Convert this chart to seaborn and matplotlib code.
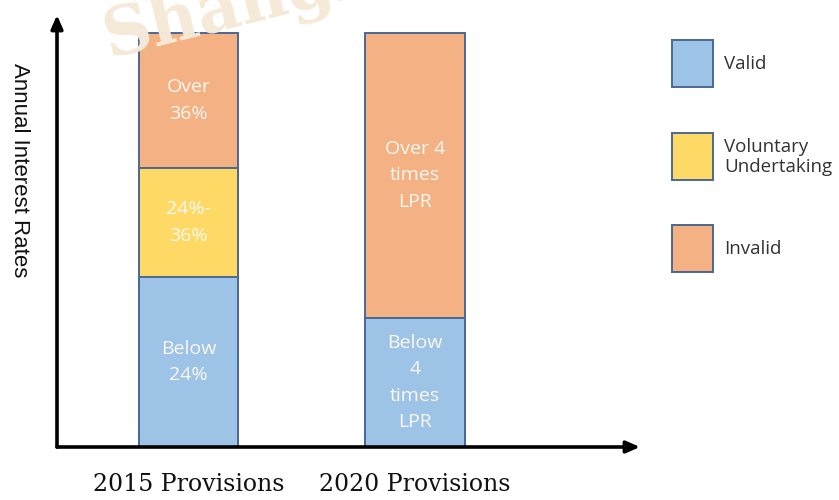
#!/usr/bin/env python3
# -*- coding: utf-8 -*-
import pandas as pd
import matplotlib.pyplot as plt
from matplotlib.patches import Rectangle
import seaborn as sns

# chart data (segment heights, arbitrary units)
provisions = ['2015 Provisions', '2020 Provisions']
valid = [41.1, 31.2]
voluntary = [26.3, 0.0]
invalid = [32.6, 68.8]
valid_text = ['Below\n24%', 'Below\n4\ntimes\nLPR']
voluntary_text = ['24%-\n36%', '']
invalid_text = ['Over\n36%', 'Over 4\ntimes\nLPR']
legend_labels = ['Valid', 'Voluntary\nUndertaking', 'Invalid']

BLUE = '#9dc3e6'
YELLOW = '#ffd966'
ORANGE = '#f4b183'
EDGE = '#4a6894'

sns.set_style('white')
plt.rcParams['font.family'] = ['Open Sans', 'DejaVu Sans']

df = pd.DataFrame({'provision': provisions, 'valid': valid,
                   'voluntary': voluntary, 'invalid': invalid})
df['low2'] = df['valid'] + df['voluntary']
df['total'] = df['low2'] + df['invalid']

fig = plt.figure(figsize=(8.39, 5.0), dpi=100)
ax = fig.add_axes([57 / 839, 53 / 500, 583 / 839, 432 / 500])

# stacked bars drawn as overlapping cumulative bars
for col, color in [('total', ORANGE), ('low2', YELLOW), ('valid', BLUE)]:
    sns.barplot(data=df, x='provision', y=col, color=color, width=0.437,
                edgecolor=EDGE, linewidth=1.4, saturation=1, ax=ax)

# text inside the segments
for i, row in df.iterrows():
    segs = [(0, row['valid'], valid_text[i]),
            (row['valid'], row['voluntary'], voluntary_text[i]),
            (row['low2'], row['invalid'], invalid_text[i])]
    for base, h, txt in segs:
        if h > 0 and txt:
            ax.text(i, base + h / 2, txt, ha='center', va='center',
                    color='#fbf8f2', fontsize=14, linespacing=1.6)

ax.set_xlim(-0.58, 1.993)
ax.set_ylim(0, 104.35)
ax.set_yticks([])
ax.set_xlabel('')
ax.set_ylabel('')
ax.tick_params(axis='x', length=0, pad=19)
for lab in ax.get_xticklabels():
    lab.set_fontfamily(['DejaVu Serif'])
    lab.set_fontsize(17)
    lab.set_color('#111111')
for s in ax.spines.values():
    s.set_visible(False)

# axis arrows
ax.annotate('', xy=(0, 1), xytext=(0, 0), xycoords='axes fraction',
            arrowprops=dict(arrowstyle='-|>,head_width=0.35,head_length=0.8',
                            lw=2.6, color='black', shrinkA=0, shrinkB=0))
ax.annotate('', xy=(1, 0), xytext=(0, 0), xycoords='axes fraction',
            arrowprops=dict(arrowstyle='-|>,head_width=0.35,head_length=0.8',
                            lw=2.6, color='black', shrinkA=0, shrinkB=0))

fig.text(19 / 839, 1 - 170 / 500, 'Annual Interest Rates', rotation=-90,
         ha='center', va='center', fontsize=16, color='#111111',
         family=['Liberation Sans'])

# legend drawn by hand
legend_colors = [BLUE, YELLOW, ORANGE]
legend_y = [40, 133, 225]
for lab, c, y in zip(legend_labels, legend_colors, legend_y):
    fig.add_artist(Rectangle((672 / 839, 1 - (y + 47) / 500), 41 / 839,
                             47 / 500, transform=fig.transFigure,
                             facecolor=c, edgecolor=EDGE, linewidth=1.4))
    fig.text(724 / 839, 1 - (y + 24) / 500, lab, ha='left', va='center',
             fontsize=13.5, color='#333333', linespacing=1.2)

# faint watermark
fig.text(97 / 839, 1 - 57 / 500, 'Shanghai', rotation=14, fontsize=48,
         fontweight='bold', family=['DejaVu Serif'], color='#f5e9d8',
         ha='left', va='baseline', zorder=0)

fig.savefig('out.png', dpi=100)
